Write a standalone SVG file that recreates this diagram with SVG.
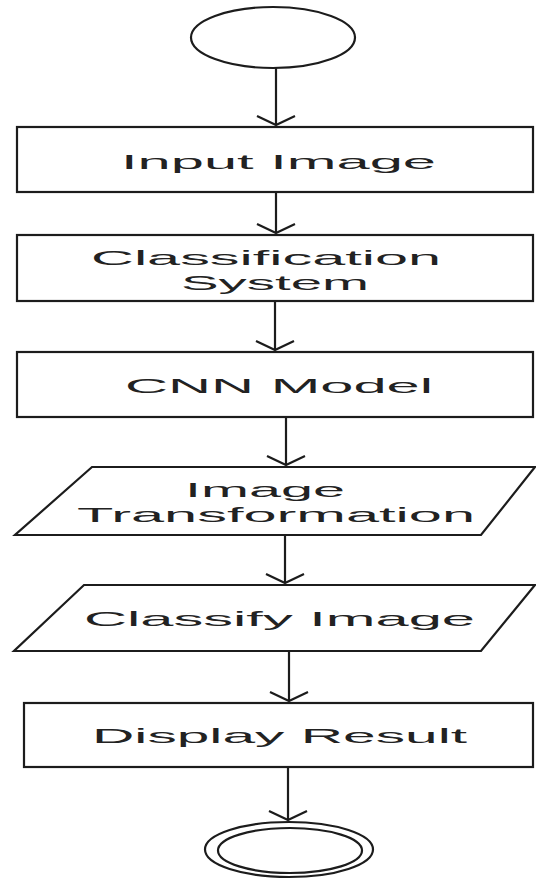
<svg xmlns="http://www.w3.org/2000/svg" width="536" height="879" viewBox="0 0 536 879">
  <style>
    .shape { fill: #ffffff; stroke: #1c1c1c; stroke-width: 2.2; }
    .wire { fill: none; stroke: #1c1c1c; stroke-width: 2.2; }
    .label { font-family: "Liberation Sans", Arial, sans-serif; font-size: 21px; fill: #222222; }
  </style>
  <defs>
    <marker id="arrow" markerUnits="userSpaceOnUse" markerWidth="24" markerHeight="44" viewBox="-12 -22 24 44" refX="0" refY="0" orient="auto">
      <path d="M-9,-19 L0,0 L-9,19" fill="none" stroke="#1c1c1c" stroke-width="2.2"/>
    </marker>
  </defs>
  <rect width="536" height="879" fill="#ffffff"/>

  <!-- flow connectors -->
  <g id="connectors">
    <line class="wire" x1="276" y1="68" x2="276" y2="125" marker-end="url(#arrow)"/>
    <line class="wire" x1="276" y1="192" x2="276" y2="233" marker-end="url(#arrow)"/>
    <line class="wire" x1="275" y1="301" x2="275" y2="350" marker-end="url(#arrow)"/>
    <line class="wire" x1="286" y1="417" x2="286" y2="465" marker-end="url(#arrow)"/>
    <line class="wire" x1="285" y1="535" x2="285" y2="583" marker-end="url(#arrow)"/>
    <line class="wire" x1="289" y1="651" x2="289" y2="701" marker-end="url(#arrow)"/>
    <line class="wire" x1="288" y1="767" x2="288" y2="820" marker-end="url(#arrow)"/>
  </g>

  <g id="start">
    <ellipse class="shape" cx="273" cy="37.5" rx="82" ry="30.5"/>
  </g>

  <g id="input-image">
    <rect class="shape" x="17" y="127" width="516" height="65"/>
    <text class="label" x="121" y="169" textLength="315" lengthAdjust="spacingAndGlyphs">Input Image</text>
  </g>

  <g id="classification-system">
    <rect class="shape" x="17" y="235" width="516" height="66"/>
    <text class="label" x="91" y="265" textLength="350" lengthAdjust="spacingAndGlyphs">Classification</text>
    <text class="label" x="181" y="290" textLength="188" lengthAdjust="spacingAndGlyphs">System</text>
  </g>

  <g id="cnn-model">
    <rect class="shape" x="17" y="352" width="516" height="65"/>
    <text class="label" x="125" y="393" textLength="308" lengthAdjust="spacingAndGlyphs">CNN Model</text>
  </g>

  <g id="image-transformation">
    <polygon class="shape" points="92,467 535,467 481,535 15,535"/>
    <text class="label" x="185" y="497" textLength="160" lengthAdjust="spacingAndGlyphs">Image</text>
    <text class="label" x="77" y="522" textLength="398" lengthAdjust="spacingAndGlyphs">Transformation</text>
  </g>

  <g id="classify-image">
    <polygon class="shape" points="84,585 535,585 481,651 14,651"/>
    <text class="label" x="84" y="626" textLength="391" lengthAdjust="spacingAndGlyphs">Classify Image</text>
  </g>

  <g id="display-result">
    <rect class="shape" x="24" y="703" width="509" height="64"/>
    <text class="label" x="92" y="743" textLength="375" lengthAdjust="spacingAndGlyphs">Display Result</text>
  </g>

  <g id="end">
    <ellipse class="shape" cx="289" cy="849.5" rx="84" ry="27.5"/>
    <ellipse class="shape" cx="290" cy="850.5" rx="72" ry="22.5"/>
  </g>
</svg>
